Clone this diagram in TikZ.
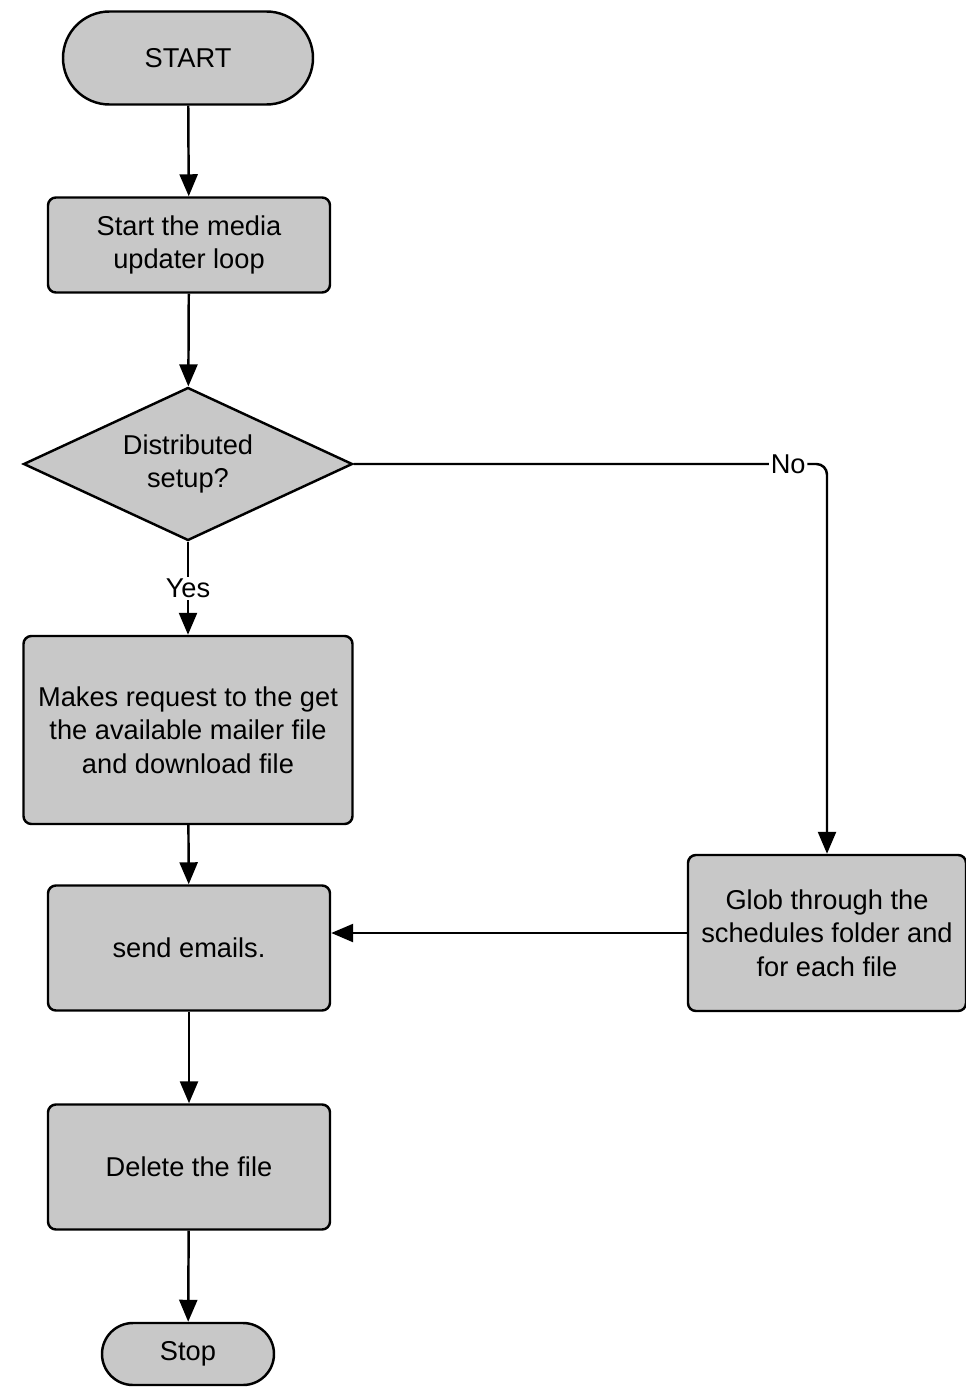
\documentclass[tikz,border=0pt]{standalone}
\usepackage{fontspec}
\setmainfont{Liberation Sans}
\usepackage{tikz}
\usetikzlibrary{shapes.geometric, shapes.misc, arrows.meta, positioning, calc}
\definecolor{boxgray}{RGB}{200,200,200}
\tikzset{
  terminal/.style={rounded rectangle, draw, fill=boxgray, line width=1.4pt, inner sep=0pt, font=\flowfont},
  process/.style={rectangle, draw, fill=boxgray, line width=1.4pt, rounded corners=4.5pt, align=center, inner sep=0pt, font=\flowfont},
  decision/.style={diamond, draw, fill=boxgray, line width=1.4pt, align=center, inner sep=0pt, aspect=2.3, font=\flowfont},
  arrow/.style={-{Triangle[length=4.4mm, width=3.6mm]}, line width=1.4pt},
  edgelabel/.style={fill=white, inner sep=1pt, font=\flowfont},
}
\newcommand{\flowfont}{\fontsize{15.5}{19}\selectfont}

\begin{document}
\begin{tikzpicture}
  \useasboundingbox (0,0) rectangle (19.32,-27.74);

  % main column
  \node[terminal, minimum width=5.0cm, minimum height=1.86cm] (start) at (3.76,-1.16) {START};
  \node[process, minimum width=5.64cm, minimum height=1.9cm] (loop) at (3.78,-4.9) {Start the media\\updater loop};
  \node[decision, minimum width=6.58cm, minimum height=3.06cm] (distrib) at (3.76,-9.28) {Distributed\\setup?};
  \node[process, minimum width=6.58cm, minimum height=3.76cm] (request) at (3.76,-14.6) {Makes request to the get\\the available mailer file\\and download file};
  \node[process, minimum width=5.64cm, minimum height=2.5cm] (send) at (3.78,-18.96) {send emails.};
  \node[process, minimum width=5.64cm, minimum height=2.5cm] (delete) at (3.78,-23.34) {Delete the file};
  \node[terminal, minimum width=3.44cm, minimum height=1.24cm] (stop) at (3.76,-27.08) {Stop};

  % side branch
  \node[process, minimum width=5.56cm, minimum height=3.12cm] (glob) at (16.54,-18.66) {Glob through the\\schedules folder and\\for each file};

  \draw[arrow] (start) -- (loop);
  \draw[arrow] (loop) -- (distrib);
  \draw[arrow] (distrib) -- node[edgelabel] {Yes} (request);
  \draw[arrow, rounded corners=6pt] (distrib.east) -| node[edgelabel, pos=0.459] {No} (glob.north);
  \draw[arrow] (glob.west) -- (glob.west -| send.east);
  \draw[arrow] (request) -- (send);
  \draw[arrow] (send) -- (delete);
  \draw[arrow] (delete) -- (stop);
\end{tikzpicture}
\end{document}
